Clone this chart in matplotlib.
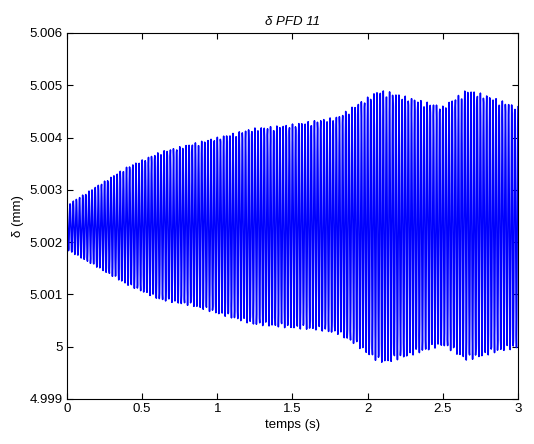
import numpy as np
import matplotlib
matplotlib.use("Agg")
import matplotlib.pyplot as plt

# Enveloppe (temps en s, delta en mm)
t_env = [0.0, 0.175, 0.4, 0.62, 0.84, 1.02, 1.24, 1.46, 1.68, 1.80, 1.90, 2.07, 2.13, 2.30, 2.50, 2.66, 2.75, 2.88, 3.0]
env_haut = [5.00271, 5.00303, 5.00344, 5.00373, 5.00389, 5.00402, 5.00418, 5.00424, 5.00434, 5.00440, 5.00459, 5.00490, 5.00489, 5.00475, 5.00460, 5.00492, 5.00485, 5.00472, 5.00459]
env_bas = [5.00185, 5.00156, 5.00118, 5.00089, 5.00077, 5.00061, 5.00042, 5.00036, 5.00031, 5.00024, 5.00007, 4.99970, 4.99969, 4.99984, 5.00002, 4.99973, 4.99980, 4.99991, 4.99997]
delta_0 = 5.0        # valeur initiale (mm)
freq = 48.0          # frequence d'oscillation (Hz)
dt = 2e-3            # pas de temps d'enregistrement (s)

t = np.arange(0, 3.0 + dt / 2, dt)
haut = np.interp(t, t_env, env_haut)
bas = np.interp(t, t_env, env_bas)
delta = (haut + bas) / 2 + (haut - bas) / 2 * np.cos(2 * np.pi * freq * t)
t = np.concatenate([[0.0], t])
delta = np.concatenate([[delta_0], delta])

plt.rcParams['font.family'] = ['Liberation Sans', 'DejaVu Sans']

fig = plt.figure(figsize=(5.34, 4.44), dpi=100)
ax = fig.add_axes([0.1255, 0.1014, 0.8445, 0.8243])
ax.plot(t, delta, "-", color="#0000ff", linewidth=1.1)
ax.set_xlim(0, 3)
ax.set_ylim(4.999, 5.006)
ax.set_xticks([0, 0.5, 1, 1.5, 2, 2.5, 3])
ax.set_xticklabels(["0", "0.5", "1", "1.5", "2", "2.5", "3"])
ax.set_yticks([4.999, 5.0, 5.001, 5.002, 5.003, 5.004, 5.005, 5.006])
ax.set_yticklabels(["4.999", "5", "5.001", "5.002", "5.003", "5.004", "5.005", "5.006"])
ax.tick_params(direction="in", top=True, right=True, length=4, width=0.8, labelsize=9.5, pad=3)
for s in ax.spines.values():
	s.set_linewidth(0.8)
ax.set_title("δ PFD 11", fontsize=9.5, style="italic", pad=6)
ax.set_xlabel("temps (s)", fontsize=9.5, labelpad=3)
ax.set_ylabel("δ (mm)", fontsize=9.5, labelpad=4)

fig.savefig("out.png", dpi=100)
